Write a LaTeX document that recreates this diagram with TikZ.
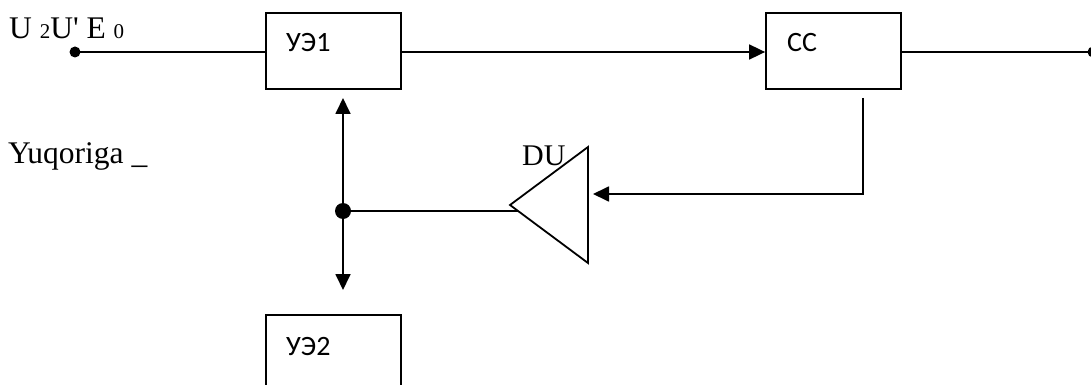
\documentclass[tikz,border=0pt]{standalone}
\usepackage{fontspec}
\setmainfont{Liberation Serif}
\newfontfamily\rawserif{Liberation Serif}
\newfontfamily\blockfont{Carlito}
\usetikzlibrary{arrows.meta}
\tikzset{
  wire/.style={line width=1.8pt},
  arr/.style={wire,-{Triangle[length=16pt,width=15pt]}},
  darr/.style={wire,{Triangle[length=16pt,width=15pt]}-{Triangle[length=16pt,width=15pt]}},
  block/.style={draw,line width=1.8pt,minimum width=135pt,minimum height=76pt,inner sep=0pt},
  blocklabel/.style={anchor=base west,inner sep=0pt,font=\blockfont\fontsize{28}{28}\selectfont},
  serif/.style={anchor=base west,inner sep=0pt,font=\rawserif\fontsize{31.5}{31.5}\selectfont},
  dot/.style={circle,fill,inner sep=0pt,minimum size=#1},
}
\begin{document}
\begin{tikzpicture}[x=1pt,y=-1pt]
\useasboundingbox (0,0) rectangle (1091,385);

% blocks
\node[block] (ue1) at (333.5,51) {};
\node[block] (cc) at (833.5,51) {};
\node[block,minimum height=90pt] (ue2) at (333.5,360) {};
\node[blocklabel] (ue1t) at (286,52) {УЭ1};
\node[blocklabel] (cct) at (787,52) {CC};
\node[blocklabel] (ue2t) at (286,355) {УЭ2};

% input and output terminals
\node[dot=11pt] (in) at (75,52) {};
\node[dot=11pt] (out) at (1093,52) {};
\node[serif] (inlabel) at (9,39) {U {\fontsize{21}{21}\selectfont 2}U' E {\fontsize{21}{21}\selectfont 0}};
\node[serif] (side) at (8,163) {Yuqoriga \_};

\draw[wire] (in.center) -- (ue1.west |- in.center);
\draw[arr] (ue1.east |- in.center) -- (cc.west |- in.center);
\draw[wire] (cc.east |- in.center) -- (out.center);

% feedback amplifier
\coordinate (fbtop) at (863,98);
\coordinate (fbin) at (593,194);
\coordinate (tip) at (510,205);
\coordinate (tr) at (588,147);
\coordinate (br) at (588,263);
\node[dot=16pt] (j) at (343,211) {};
\coordinate (up) at (343,98);
\coordinate (down) at (343,290);

\draw[arr] (fbtop) |- (fbin);
\draw[darr] (up) -- (down);
\draw[wire] (j.center) -- (520,211);

\node[serif,font=\rawserif\fontsize{30}{30}\selectfont] (du) at (522,165) {DU \_};
\draw[wire,fill=white,line join=miter] (tip) -- (tr) -- (br) -- cycle;
\end{tikzpicture}
\end{document}
